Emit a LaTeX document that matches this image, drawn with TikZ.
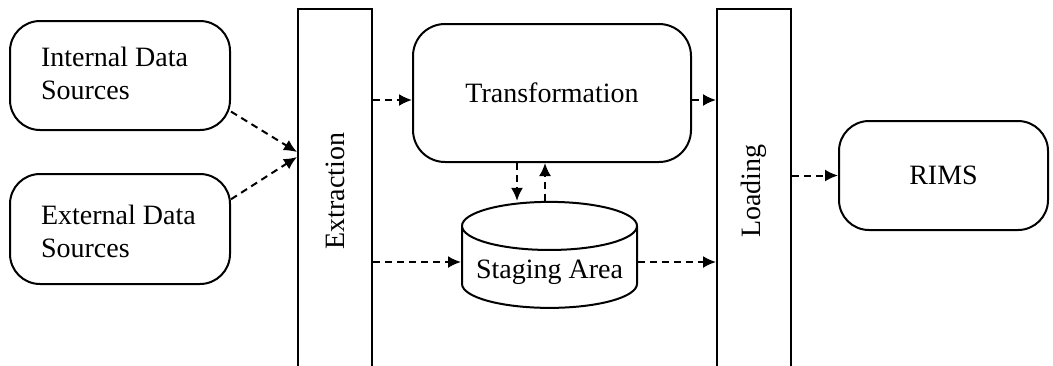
\documentclass[tikz,border=0pt]{standalone}
\usepackage{fontspec}
\setmainfont{Liberation Serif}
\usepackage{tikz}
\usetikzlibrary{
    arrows,
    arrows.meta,
    shapes,
    shapes.geometric,
    calc,
    positioning
}
\tikzset{rbox/.style={draw=black, line width=1pt, rounded corners=15pt, align=left},
         bar/.style={draw=black, line width=1pt, minimum width=37pt, inner sep=0pt},
         flow/.style={line width=1pt, dash pattern=on 3.5pt off 2.5pt, -{Latex[length=6.5pt, width=6pt]}}}

\begin{document}
\begin{tikzpicture}[x=0.5pt, y=-0.5pt, font=\fontsize{14}{16.5}\selectfont]
                        \useasboundingbox (0, 0) rectangle (1053, 365);
                        \clip (0, 0) rectangle (1053, 365);
                        \node[rbox, minimum width=110pt, minimum height=54.5pt] (int) at (120, 75.5) {};
                        \node[anchor=west, align=left] at (34, 73) {Internal Data\\Sources};
                        \node[rbox, minimum width=110pt, minimum height=55pt] (ext) at (120, 229) {};
                        \node[anchor=west, align=left] at (34, 231) {External Data\\Sources};
                        \node[bar, minimum height=182pt] (extr) at (335, 191) {\rotatebox{90}{Extraction}};
                        \node[rbox, rounded corners=16pt, minimum width=139pt, minimum height=69pt] (trans) at (552, 93) {Transformation};
                        \node[cylinder, shape border rotate=90, draw=black, line width=1pt, aspect=0.3,
                              minimum width=87.5pt, minimum height=53pt] (stage) at (549.5, 272) {Staging Area};
                        \node[bar, minimum height=182pt] (load) at (754, 191) {\rotatebox{90}{Loading}};
                        \node[rbox, minimum width=104.5pt, minimum height=54.5pt] (rims) at (943.5, 175.5) {RIMS};
                        % arrows
                        \draw[flow] (int.-18) -- (extr.west |- 0, 152);
                        \draw[flow] (ext.15) -- (extr.west |- 0, 157);
                        \draw[flow] (extr.east |- 0, 100) -- (trans.west |- 0, 100);
                        \draw[flow] (extr.east |- 0, 262) -- (stage.west |- 0, 262);
                        \draw[flow] (trans.east |- 0, 100) -- (load.west |- 0, 100);
                        \draw[flow] (stage.east |- 0, 262) -- (load.west |- 0, 262);
                        \draw[flow] (trans.south -| 517, 0) -- (stage.north -| 517, 0);
                        \draw[flow] (stage.north -| 545, 0) -- (trans.south -| 545, 0);
                        \draw[flow] (load.east |- rims.west) -- (rims.west);
                    \end{tikzpicture}
\end{document}
